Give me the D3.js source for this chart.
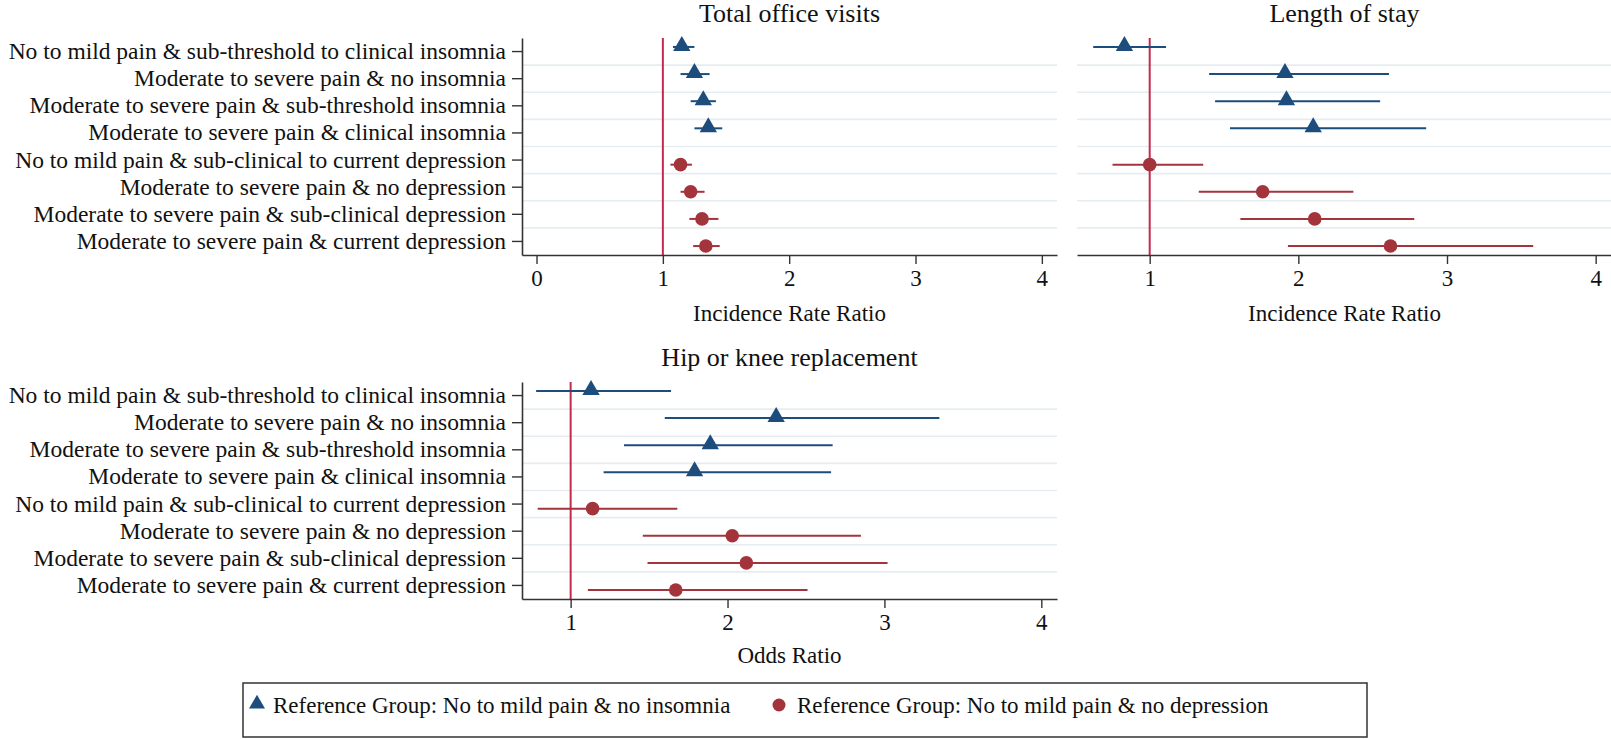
<!DOCTYPE html>
<html>
<head>
<meta charset="utf-8">
<script src="https://cdn.jsdelivr.net/npm/d3@7"></script>
<style>
  html, body { margin: 0; padding: 0; background: #fff; }
  svg { display: block; }
  text { font-family: "Liberation Serif", "Times New Roman", serif; fill: #111; }
</style>
</head>
<body>
<svg id="chart" width="1611" height="739"></svg>
<script>
// ---------- DATA ----------
const categories = [
  "No to mild pain & sub-threshold to clinical insomnia",
  "Moderate to severe pain & no insomnia",
  "Moderate to severe pain & sub-threshold insomnia",
  "Moderate to severe pain & clinical insomnia",
  "No to mild pain & sub-clinical to current depression",
  "Moderate to severe pain & no depression",
  "Moderate to severe pain & sub-clinical depression",
  "Moderate to severe pain & current depression"
];
// which reference group each row belongs to (0 = insomnia, 1 = depression)
const rowGroup = [0, 0, 0, 0, 1, 1, 1, 1];
const groupNames = [
  "Reference Group: No to mild pain & no insomnia",
  "Reference Group: No to mild pain & no depression"
];
const panelTitles = ["Total office visits", "Length of stay", "Hip or knee replacement"];
const axisTitles = ["Incidence Rate Ratio", "Incidence Rate Ratio", "Odds Ratio"];

// Total office visits (IRR)
const officeEst = [1.15, 1.25, 1.32, 1.36, 1.14, 1.22, 1.31, 1.34];
const officeLo  = [1.08, 1.14, 1.22, 1.25, 1.06, 1.14, 1.21, 1.24];
const officeHi  = [1.25, 1.37, 1.42, 1.47, 1.23, 1.33, 1.44, 1.45];
// Length of stay (IRR)
const losEst = [0.83, 1.91, 1.92, 2.10, 1.00, 1.76, 2.11, 2.62];
const losLo  = [0.62, 1.40, 1.44, 1.54, 0.75, 1.33, 1.61, 1.93];
const losHi  = [1.11, 2.61, 2.55, 2.86, 1.36, 2.37, 2.78, 3.58];
// Hip or knee replacement (OR)
const hipEst = [1.13, 2.31, 1.89, 1.79, 1.14, 2.03, 2.12, 1.67];
const hipLo  = [0.78, 1.60, 1.34, 1.21, 0.79, 1.46, 1.49, 1.11];
const hipHi  = [1.64, 3.35, 2.67, 2.66, 1.68, 2.85, 3.02, 2.51];

const ticks1 = [0, 1, 2, 3, 4];
const ticks2 = [1, 2, 3, 4];
const ticks3 = [1, 2, 3, 4];
const refValue = 1;

// ---------- STYLE / LAYOUT ----------
const blue = "#1d4d7c";
const red = "#a3343c";
const refColor = "#c42a4e";
const gridColor = "#e6edf1";
const axisColor = "#333";
const colors = [blue, red];

const panels = [
  { title: panelTitles[0], axisTitle: axisTitles[0], est: officeEst, lo: officeLo, hi: officeHi,
    ticks: ticks1, domain: [-0.115, 4.12], x0: 522, x1: 1057, y0: 38, y1: 255, yaxis: true },
  { title: panelTitles[1], axisTitle: axisTitles[1], est: losEst, lo: losLo, hi: losHi,
    ticks: ticks2, domain: [0.511, 4.11], x0: 1077, x1: 1612, y0: 38, y1: 255, yaxis: false },
  { title: panelTitles[2], axisTitle: axisTitles[2], est: hipEst, lo: hipLo, hi: hipHi,
    ticks: ticks3, domain: [0.69, 4.10], x0: 522, x1: 1057, y0: 382, y1: 599, yaxis: true }
];

const svg = d3.select("#chart");
const triangle = d3.symbol().type(d3.symbolTriangle).size(130);
const circleR = 6.8;

panels.forEach((p, pi) => {
  const g = svg.append("g");
  const x = d3.scaleLinear().domain(p.domain).range([p.x0, p.x1]);
  const y = d3.scaleBand().domain(categories).range([p.y0, p.y1]).padding(0);
  const bw = y.bandwidth();
  const yc = (c, i) => y(c) + bw / 2 + (rowGroup[i] === 0 ? -0.17 : 0.17) * bw;

  // gridlines between rows
  g.append("g").selectAll("line").data(categories.slice(1)).join("line")
    .attr("x1", p.x0).attr("x2", p.x1)
    .attr("y1", d => y(d)).attr("y2", d => y(d))
    .attr("stroke", gridColor).attr("stroke-width", 1.6);

  // reference line
  g.append("line")
    .attr("x1", x(refValue)).attr("x2", x(refValue))
    .attr("y1", p.y0).attr("y2", p.y1)
    .attr("stroke", refColor).attr("stroke-width", 2);

  // x axis
  const xa = g.append("g").attr("transform", `translate(0,${p.y1})`)
    .call(d3.axisBottom(x).tickValues(p.ticks).tickFormat(d3.format("d")).tickSizeInner(9).tickSizeOuter(0).tickPadding(6));
  xa.select(".domain").attr("stroke", axisColor).attr("stroke-width", 1.6);
  xa.selectAll(".tick line").attr("stroke", axisColor).attr("stroke-width", 1.4);
  xa.selectAll(".tick text").attr("font-size", 23).attr("font-family", "Liberation Serif").attr("fill", "#111");

  // y axis
  if (p.yaxis) {
    const ya = g.append("g").attr("transform", `translate(${p.x0},0)`)
      .call(d3.axisLeft(y).tickSizeInner(10).tickSizeOuter(0).tickPadding(6));
    ya.select(".domain").attr("stroke", axisColor).attr("stroke-width", 1.6);
    ya.selectAll(".tick line").attr("stroke", axisColor).attr("stroke-width", 1.4);
    ya.selectAll(".tick text").attr("font-size", 23.5).attr("font-family", "Liberation Serif").attr("fill", "#111");
  }

  // CI lines
  g.append("g").selectAll("line").data(categories).join("line")
    .attr("x1", (d, i) => x(p.lo[i])).attr("x2", (d, i) => x(p.hi[i]))
    .attr("y1", (d, i) => yc(d, i)).attr("y2", (d, i) => yc(d, i))
    .attr("stroke", (d, i) => colors[rowGroup[i]]).attr("stroke-width", 2);

  // markers
  const mk = g.append("g");
  categories.forEach((c, i) => {
    if (rowGroup[i] === 0) {
      mk.append("path").attr("d", triangle)
        .attr("transform", `translate(${x(p.est[i])},${yc(c, i) - 1})`)
        .attr("fill", blue);
    } else {
      mk.append("circle").attr("cx", x(p.est[i])).attr("cy", yc(c, i)).attr("r", circleR)
        .attr("fill", red);
    }
  });

  // titles
  const cx = (p.x0 + p.x1) / 2;
  g.append("text").attr("x", cx).attr("y", p.y0 - 16).attr("text-anchor", "middle")
    .attr("font-size", 26).text(p.title);
  g.append("text").attr("x", cx).attr("y", p.y1 + (pi === 2 ? 64 : 66)).attr("text-anchor", "middle")
    .attr("font-size", 23).text(p.axisTitle);
});

// ---------- LEGEND ----------
const lg = svg.append("g");
lg.append("rect").attr("x", 243).attr("y", 683).attr("width", 1124).attr("height", 54)
  .attr("fill", "#fff").attr("stroke", "#333").attr("stroke-width", 1.5);
const legendItems = [
  { name: groupNames[0], color: blue, sym: "tri", mx: 257, tx: 273 },
  { name: groupNames[1], color: red, sym: "circ", mx: 779, tx: 797 }
];
legendItems.forEach(it => {
  if (it.sym === "tri") {
    lg.append("path").attr("d", d3.symbol().type(d3.symbolTriangle).size(110))
      .attr("transform", `translate(${it.mx},${704})`).attr("fill", it.color);
  } else {
    lg.append("circle").attr("cx", it.mx).attr("cy", 705).attr("r", 6.5).attr("fill", it.color);
  }
  lg.append("text").attr("x", it.tx).attr("y", 713).attr("font-size", 23).text(it.name);
});
</script>
</body>
</html>
